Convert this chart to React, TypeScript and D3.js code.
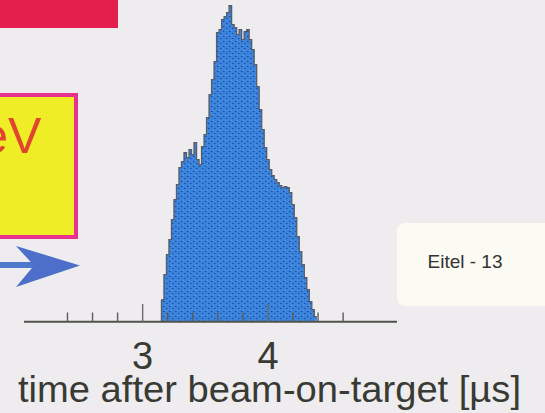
import React from "react";
import * as d3 from "d3";

// ---- data ----
const binStart = 3.15; // µs
const binWidth = 0.02; // µs
const counts = [
  22, 47, 67, 82, 102, 122, 137, 154, 160, 169, 164, 172, 167, 179, 162, 157,
  175, 187, 204, 227, 242, 260, 289, 292, 302, 305, 309, 316, 297, 294, 287,
  292, 282, 290, 292, 282, 272, 257, 235, 212, 192, 174, 162, 152, 146, 142,
  139, 136, 134, 135, 134, 129, 117, 104, 85, 70, 57, 44, 32, 20, 12, 5,
];
const minorTicks = [2.4, 2.6, 2.8, 3.2, 3.4, 3.6, 3.8, 4.2, 4.4, 4.6];
const majorTicks = [3, 4];
const majorLabels = ["3", "4"];
const axisTitle = "time after beam-on-target [\u00B5s]";
const slideTag = "Eitel - 13";
const boxTextA = "e";
const boxTextB = "V";

const W = 545;
const H = 413;

export default function App() {
  const x = d3.scaleLinear().domain([2.053, 5.03]).range([24, 397]);
  const y = d3.scaleLinear().domain([0, 320]).range([321.7, 1.7]);

  const pts: [number, number][] = counts.map((c, i) => [binStart + i * binWidth, c]);
  pts.push([binStart + counts.length * binWidth, counts[counts.length - 1]]);

  const area = d3
    .area<[number, number]>()
    .x((d) => x(d[0]))
    .y0(y(0))
    .y1((d) => y(d[1]))
    .curve(d3.curveStepAfter);

  const line = d3
    .line<[number, number]>()
    .x((d) => x(d[0]))
    .y((d) => y(d[1]))
    .curve(d3.curveStepAfter);

  const font = "'Liberation Sans', Arial, Helvetica, sans-serif";
  const textCol = "#383a34";

  return (
    <svg
      width={W}
      height={H}
      style={{ position: "absolute", left: 0, top: 0, display: "block" }}
    >
      <defs>
        <pattern id="speck" width="6" height="5" patternUnits="userSpaceOnUse">
          <rect width="6" height="5" fill="#3a84da" />
          <rect x="1" y="1" width="1.5" height="1" fill="#1f3fae" />
          <rect x="4" y="3" width="1.5" height="1" fill="#2446b4" />
          <rect x="3" y="0" width="1" height="1" fill="#5a9ae6" />
        </pattern>
      </defs>
      <rect width={W} height={H} fill="#eeecef" />

      {/* red banner */}
      <rect x={-2} y={-2} width={120} height={30} fill="#e51f4d" />

      {/* yellow box */}
      <rect
        x={-4}
        y={95}
        width={80}
        height={142}
        fill="#efee26"
        stroke="#e8318e"
        strokeWidth={4}
      />
      <text y={153} fontFamily={font} fontSize={50} fill="#e0452e">
        <tspan x={8} textAnchor="end">{boxTextA}</tspan>
        <tspan x={8} textAnchor="start">{boxTextB}</tspan>
      </text>

      {/* blue arrow */}
      <rect x={-2} y={262} width={40} height={6} fill="#4d78cc" />
      <path d="M80,265.5 L16,246 L34,265.5 L16,287 Z" fill="#4d6fca" />

      {/* slide tag box */}
      <rect x={397} y={223} width={160} height={83} rx={8} fill="#fbfbf3" />
      <text
        x={465}
        y={268}
        textAnchor="middle"
        fontFamily={font}
        fontSize={19}
        fill="#333333"
      >
        {slideTag}
      </text>

      {/* histogram */}
      <path d={area(pts) || ""} fill="url(#speck)" />
      <path d={line(pts) || ""} fill="none" stroke="#585c66" strokeWidth={1.3} />
      <line
        x1={x(binStart)}
        x2={x(binStart)}
        y1={y(0)}
        y2={y(counts[0])}
        stroke="#585c66"
        strokeWidth={1.3}
      />

      {/* axis */}
      <line x1={24} x2={397} y1={321.7} y2={321.7} stroke="#50524e" strokeWidth={2} />
      {minorTicks.map((t) => (
        <line
          key={"m" + t}
          x1={x(t)}
          x2={x(t)}
          y1={321.7}
          y2={312.5}
          stroke="#5c5e5a"
          strokeWidth={1.4}
        />
      ))}
      {majorTicks.map((t) => (
        <line
          key={"M" + t}
          x1={x(t)}
          x2={x(t)}
          y1={321.7}
          y2={304}
          stroke="#6a6c6a"
          strokeWidth={1.4}
        />
      ))}
      {majorTicks.map((t, i) => (
        <text
          key={"l" + t}
          x={x(t)}
          y={369}
          textAnchor="middle"
          fontFamily={font}
          fontSize={38}
          fill={textCol}
        >
          {majorLabels[i]}
        </text>
      ))}
      <text
        x={18}
        y={402}
        fontFamily={font}
        fontSize={37}
        fill={textCol}
        textLength={503}
        lengthAdjust="spacingAndGlyphs"
      >
        {axisTitle}
      </text>
    </svg>
  );
}
